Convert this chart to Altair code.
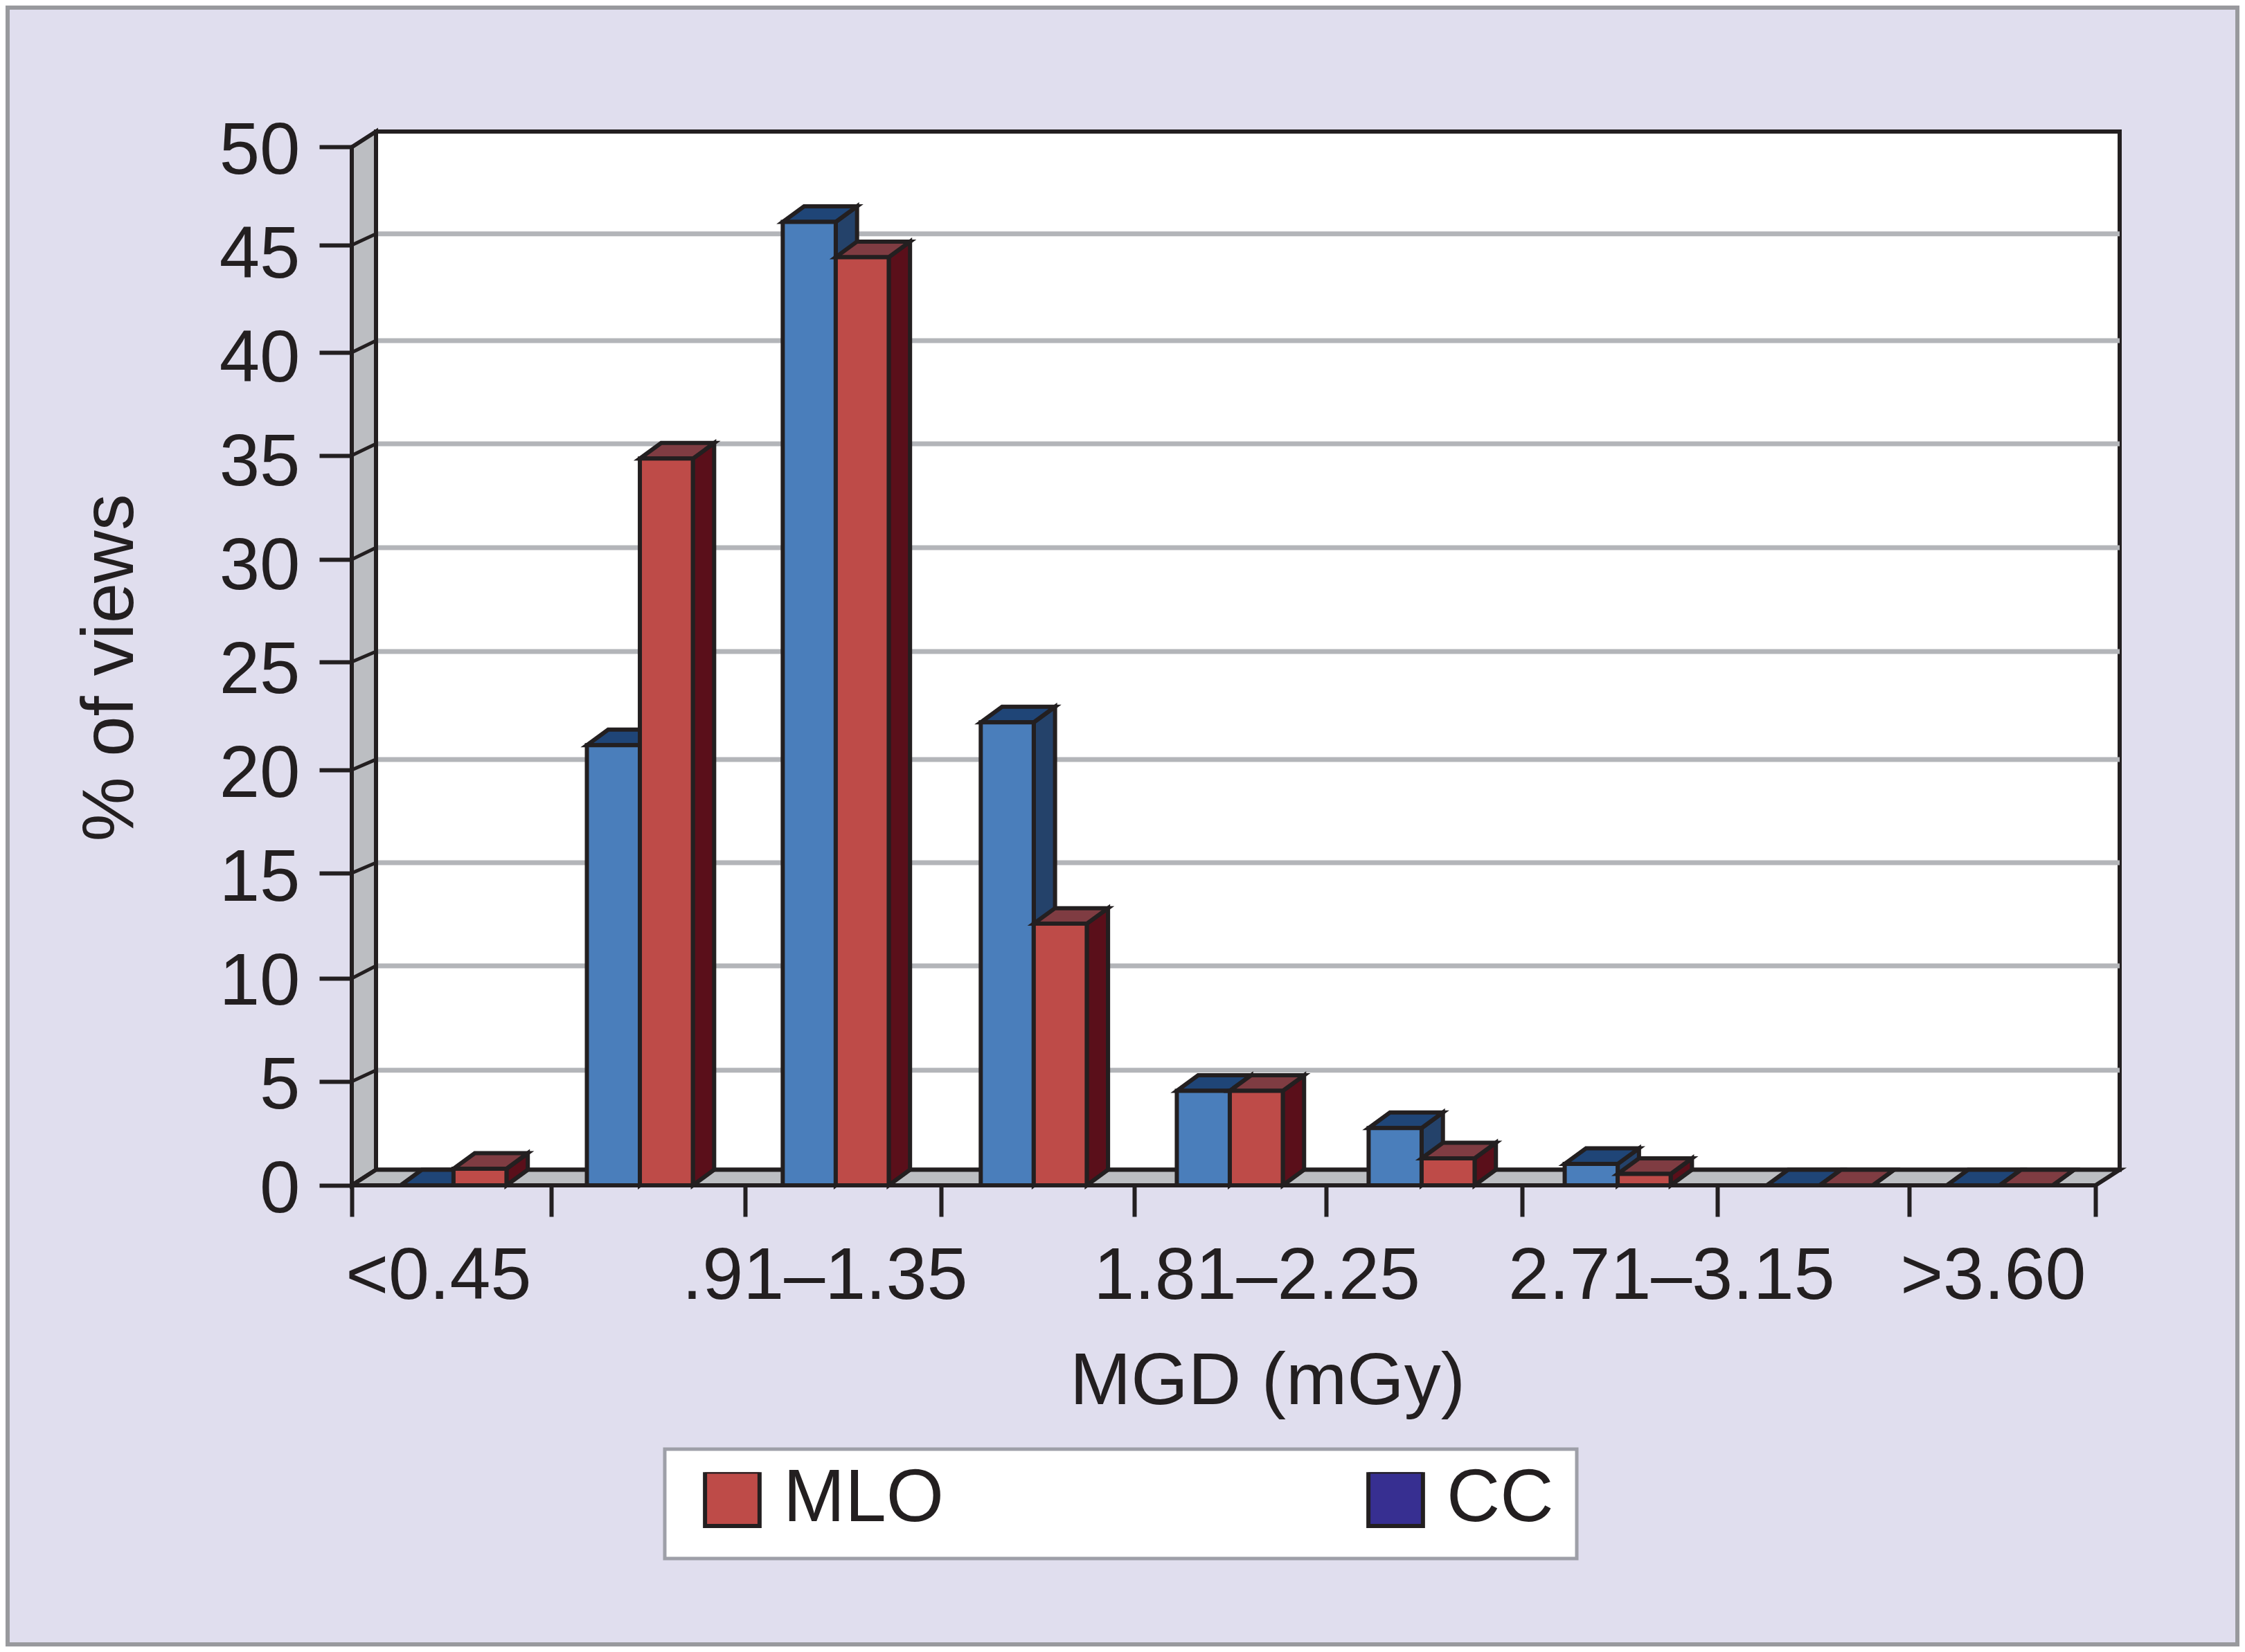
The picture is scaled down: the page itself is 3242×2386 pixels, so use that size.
import altair as alt
import pandas as pd

# ---- values ----
views = ["MLO", "CC"]
view_colors = ["#be4b48", "#372f91"]
cc_values = [0, 21.2, 46.4, 22.3, 4.55, 2.76, 1.03, 0, 0]
mlo_values = [0.8, 35.0, 44.7, 12.6, 4.55, 1.3, 0.55, 0, 0]
bar_centres = [0.525, 1.487, 2.498, 3.52, 4.532, 5.522, 6.534, 7.577, 8.506]
bin_edges = [0, 1.03, 2.03, 3.04, 4.04, 5.03, 6.04, 7.05, 8.04, 9]
label_positions = [0.446, 2.44, 4.67, 6.81, 8.47]
label_texts = ["<0.45", ".91–1.35", "1.81–2.25", "2.71–3.15", ">3.60"]
y_labels = [0, 5, 10, 15, 20, 25, 30, 35, 40, 45, 50]
tick_levels = [0, 5.0, 9.97, 15.04, 20.01, 25.21, 30.14, 35.15, 40.11, 45.28, 50]
grid_levels = [0.75, 5.54, 10.57, 15.54, 20.51, 25.71, 30.71, 35.71, 40.68, 45.82, 50.75]
x_title = "MGD (mGy)"
y_title = "% of views"

# 3-D look, in axis units
BAR_W = 0.2735
DX = 0.125
BAR_DX = 0.11
DY = 0.75
X_MAX = 9
Y_MAX = 50

INK = "#231f20"
WALL = "#bcbec2"
FONT = "Liberation Sans"
SW = 6

x_scale = alt.Scale(domain=[0, X_MAX + DX], nice=False, zero=False)
y_scale = alt.Scale(domain=[0, Y_MAX + DY], nice=False)


def top_face(key, x0, w, v, dx=DX):
    return [
        {"k": key, "x": x0, "lo": v, "hi": v},
        {"k": key, "x": x0 + dx, "lo": v, "hi": v + DY},
        {"k": key, "x": x0 + w, "lo": v, "hi": v + DY},
        {"k": key, "x": x0 + w + dx, "lo": v + DY, "hi": v + DY},
    ]


def side_face(key, x0, v_lo, v_hi, dx=DX):
    return [
        {"k": key, "x": x0, "lo": v_lo, "hi": v_hi},
        {"k": key, "x": x0 + dx, "lo": v_lo + DY, "hi": v_hi + DY},
    ]


def area(rows, fill):
    return (
        alt.Chart(pd.DataFrame(rows))
        .mark_area(fill=fill, stroke=INK, strokeWidth=SW, orient="vertical", clip=False, strokeJoin="miter")
        .encode(x=alt.X("x:Q", scale=x_scale), y=alt.Y("lo:Q", scale=y_scale), y2="hi:Q", detail="k:N")
    )


x_axis_values = sorted(bin_edges + label_positions)
x_label_expr = "".join(f"datum.value == {p} ? '{t}' : " for p, t in zip(label_positions, label_texts)) + "''"
x_tick_test = f"indexof({bin_edges}, datum.value) >= 0"
y_axis_values = sorted(set(y_labels + tick_levels))
y_label_expr = f"indexof({y_labels}, datum.value) >= 0 ? '' + datum.value : ''"
y_tick_test = f"indexof({tick_levels}, datum.value) >= 0"

# axes + legend carrier (hidden behind the back wall)
legend_df = pd.DataFrame({"view": views, "x": [3, 3], "y": [20, 20]})
base = (
    alt.Chart(legend_df)
    .mark_square(size=1, opacity=1)
    .encode(
        x=alt.X("x:Q", scale=x_scale,
                axis=alt.Axis(values=x_axis_values, labelExpr=x_label_expr, title=x_title, grid=False, domain=False,
                              tickSize=45, tickWidth=SW, tickColor=INK,
                              tickOpacity={"condition": {"test": x_tick_test, "value": 1}, "value": 0},
                              labelFont=FONT, labelFontSize=106, labelColor=INK, labelPadding=34, labelLimit=0,
                              labelOverlap=False, labelFlush=False, labelBound=False, labelAngle=0,
                              titleFont=FONT, titleFontSize=106, titleFontWeight="normal", titleColor=INK,
                              titleX=1322, titleY=315, titleAlign="center", titleBaseline="alphabetic")),
        y=alt.Y("y:Q", scale=y_scale,
                axis=alt.Axis(values=y_axis_values, labelExpr=y_label_expr, title=y_title, grid=False, domain=False,
                              tickSize=47, tickWidth=SW, tickColor=INK,
                              tickOpacity={"condition": {"test": y_tick_test, "value": 1}, "value": 0},
                              labelFont=FONT, labelFontSize=105, labelColor=INK, labelPadding=28, labelOffset=6,
                              labelOverlap=False,
                              titleFont=FONT, titleFontSize=105, titleFontWeight="normal", titleColor=INK,
                              titleX=-349, titleY=774, titleAlign="center", titleBaseline="middle", titleAngle=-90)),
        color=alt.Color("view:N",
                        scale=alt.Scale(domain=views, range=view_colors),
                        legend=alt.Legend(title=None, orient="none", legendX=452, legendY=1903, direction="horizontal",
                                          columns=2, columnPadding=588, symbolType="square", symbolSize=6200,
                                          symbolStrokeColor=INK, symbolStrokeWidth=SW, symbolOffset=11,
                                          labelFont=FONT, labelFontSize=107, labelColor=INK, labelOffset=20,
                                          labelLimit=600, clipHeight=77, padding=33,
                                          fillColor="white", strokeColor="#9e9fa8")),
    )
)

# room
wall_rect = (
    alt.Chart(pd.DataFrame({"a": [DX], "b": [X_MAX + DX], "c": [DY], "d": [Y_MAX + DY]}))
    .mark_rect(fill="white", stroke=INK, strokeWidth=SW)
    .encode(x=alt.X("a:Q", scale=x_scale), x2="b:Q", y=alt.Y("c:Q", scale=y_scale), y2="d:Q")
)
grid_df = pd.DataFrame({"v": grid_levels[1:-1], "a": DX, "b": X_MAX + DX})
grid = (
    alt.Chart(grid_df)
    .mark_rule(color="#b3b5b9", strokeWidth=7)
    .encode(x=alt.X("a:Q", scale=x_scale), x2="b:Q", y=alt.Y("v:Q", scale=y_scale))
)
left_wall = area(side_face("wall", 0, 0, Y_MAX), WALL)
floor = area(top_face("floor", 0, X_MAX, 0), WALL)
notch_rows = []
for t, g in zip(tick_levels, grid_levels):
    notch_rows += [{"t": t, "x": 0, "y": t}, {"t": t, "x": DX, "y": g}]
notches = (
    alt.Chart(pd.DataFrame(notch_rows))
    .mark_line(color=INK, strokeWidth=5)
    .encode(x=alt.X("x:Q", scale=x_scale), y=alt.Y("y:Q", scale=y_scale), detail="t:N")
)


def series_layers(values, offset, front, top, side, name):
    lefts = [c + offset for c in bar_centres]
    tops, sides = [], []
    for i, (x0, v) in enumerate(zip(lefts, values)):
        tops += top_face(f"{name}t{i}", x0, BAR_W, v, BAR_DX)
        sides += side_face(f"{name}s{i}", x0 + BAR_W, 0, v, BAR_DX)
    fronts = pd.DataFrame({"a": lefts, "b": [x + BAR_W for x in lefts], "lo": [0] * len(values), "v": values})
    f = (
        alt.Chart(fronts)
        .mark_rect(fill=front, stroke=INK, strokeWidth=SW)
        .encode(x=alt.X("a:Q", scale=x_scale), x2="b:Q", y=alt.Y("lo:Q", scale=y_scale), y2="v:Q")
    )
    return [area(sides, side), area(tops, top), f]


frame = (
    alt.Chart(pd.DataFrame({"f": [0]}))
    .mark_rect(fill=None, stroke="#98999d", strokeWidth=12)
    .encode(x=alt.value(-500), x2=alt.value(2726), y=alt.value(-182), y2=alt.value(2188))
)

layers = [base, wall_rect, grid, left_wall, floor, notches]
layers += series_layers(cc_values, -BAR_W, "#4a7ebb", "#1f4577", "#24426a", "cc")
layers += series_layers(mlo_values, 0, "#be4b48", "#7f3c42", "#5a0f1a", "mlo")
layers += [frame]

chart = (
    alt.layer(*layers)
    .resolve_scale(x="shared", y="shared")
    .properties(width=2553, height=1522, background="#e0deee",
                padding={"left": 500, "top": 182, "right": 173, "bottom": 666},
                autosize=alt.AutoSizeParams(type="none"))
    .configure_view(stroke=None)
    .configure_legend(strokeWidth=5)
)

chart.save("out.html", embed_options={"renderer": "svg", "actions": False})
